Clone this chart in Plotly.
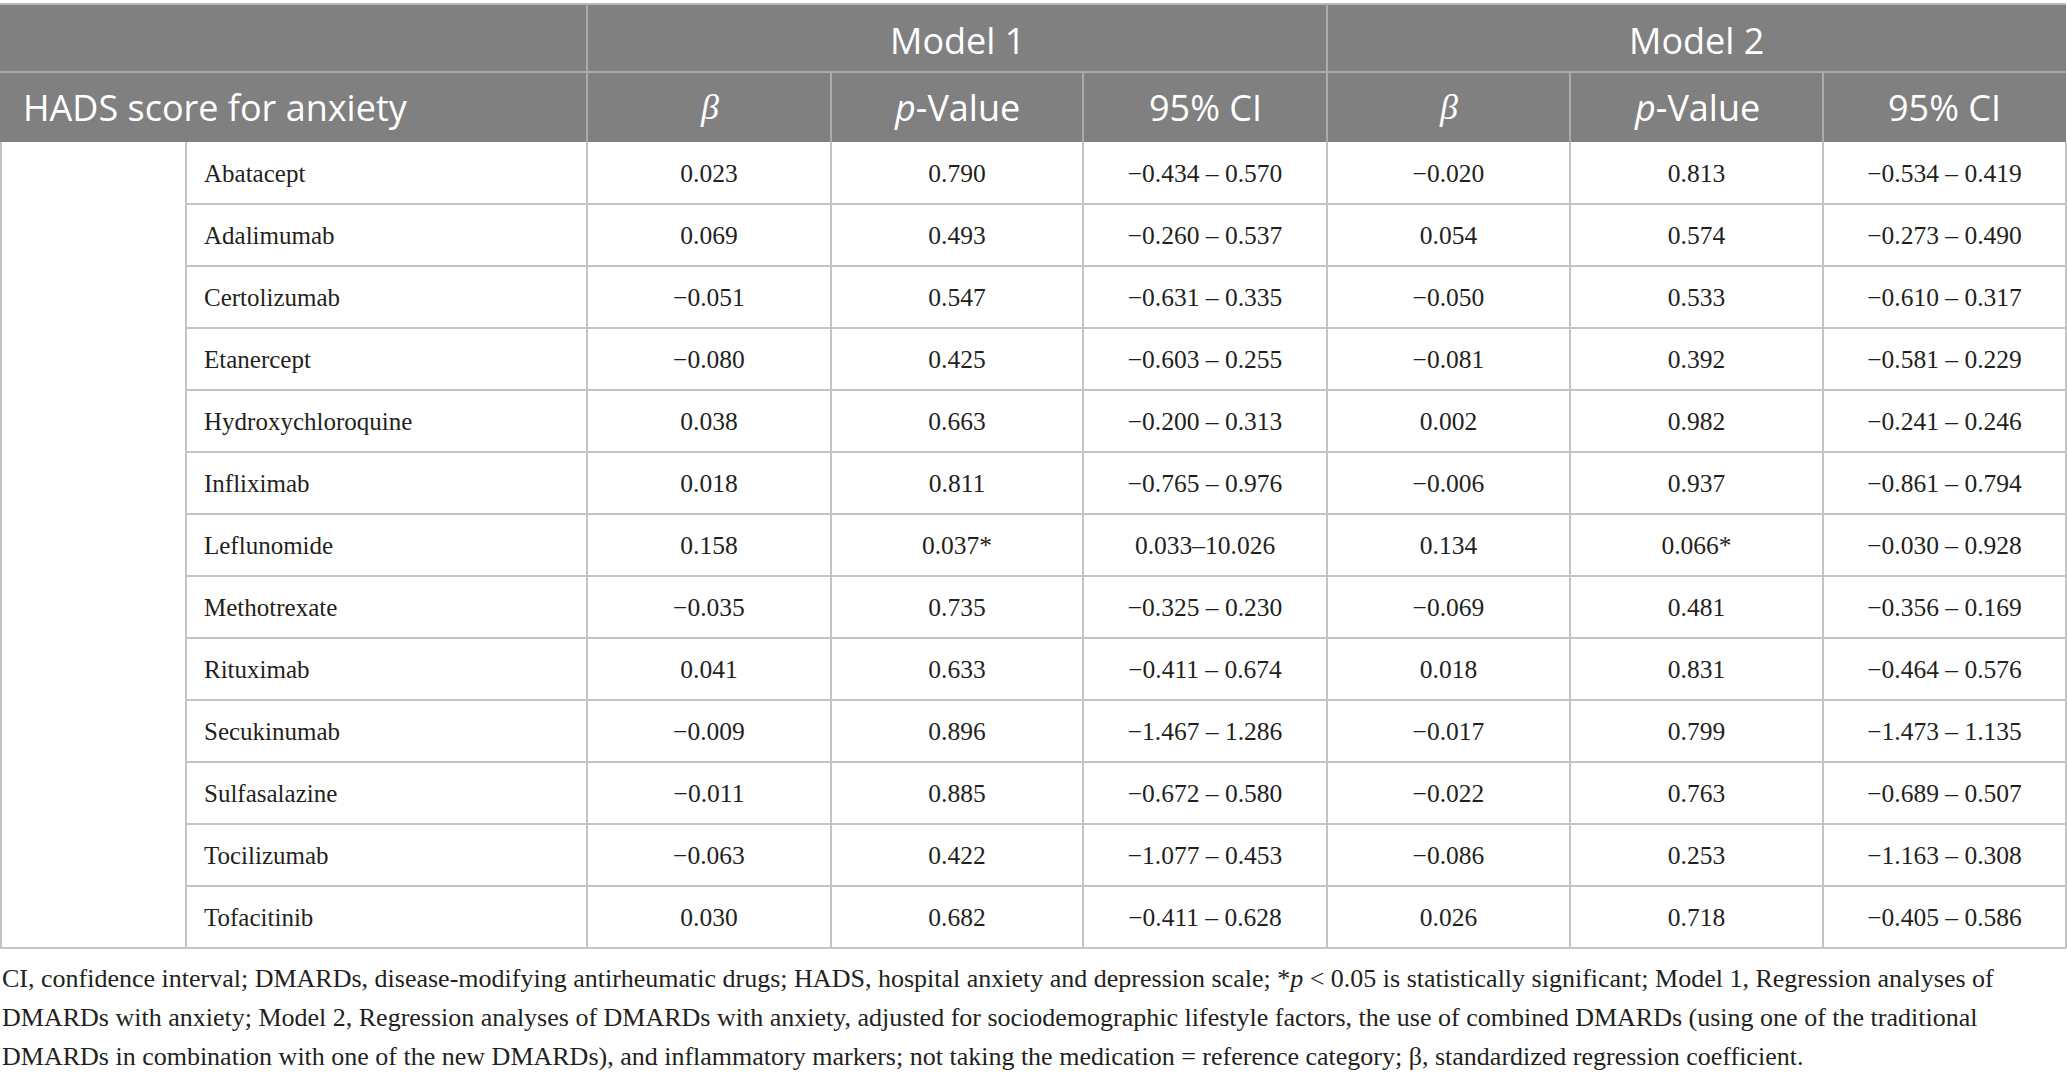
import plotly.graph_objects as go

# Table content
drugs = ["Abatacept", "Adalimumab", "Certolizumab", "Etanercept", "Hydroxychloroquine",
         "Infliximab", "Leflunomide", "Methotrexate", "Rituximab", "Secukinumab",
         "Sulfasalazine", "Tocilizumab", "Tofacitinib"]

m1_beta = [0.023, 0.069, -0.051, -0.080, 0.038, 0.018, 0.158, -0.035, 0.041, -0.009, -0.011, -0.063, 0.030]
m1_p = [0.790, 0.493, 0.547, 0.425, 0.663, 0.811, 0.037, 0.735, 0.633, 0.896, 0.885, 0.422, 0.682]
m1_star = [False, False, False, False, False, False, True, False, False, False, False, False, False]
m1_ci = ["−0.434 – 0.570", "−0.260 – 0.537", "−0.631 – 0.335", "−0.603 – 0.255", "−0.200 – 0.313",
         "−0.765 – 0.976", "0.033–10.026", "−0.325 – 0.230", "−0.411 – 0.674", "−1.467 – 1.286",
         "−0.672 – 0.580", "−1.077 – 0.453", "−0.411 – 0.628"]

m2_beta = [-0.020, 0.054, -0.050, -0.081, 0.002, -0.006, 0.134, -0.069, 0.018, -0.017, -0.022, -0.086, 0.026]
m2_p = [0.813, 0.574, 0.533, 0.392, 0.982, 0.937, 0.066, 0.481, 0.831, 0.799, 0.763, 0.253, 0.718]
m2_star = [False, False, False, False, False, False, True, False, False, False, False, False, False]
m2_ci = ["−0.534 – 0.419", "−0.273 – 0.490", "−0.610 – 0.317", "−0.581 – 0.229", "−0.241 – 0.246",
         "−0.861 – 0.794", "−0.030 – 0.928", "−0.356 – 0.169", "−0.464 – 0.576", "−1.473 – 1.135",
         "−0.689 – 0.507", "−1.163 – 0.308", "−0.405 – 0.586"]

models = ["Model 1", "Model 2"]
sub_headers = ["<i>β</i>", "<i>p</i>-Value", "95% CI"]
row_title = "HADS score for anxiety"

footnote = [
    "CI, confidence interval; DMARDs, disease-modifying antirheumatic drugs; HADS, hospital anxiety and depression scale; *<i>p</i> < 0.05 is statistically significant; Model 1, Regression analyses of",
    "DMARDs with anxiety; Model 2, Regression analyses of DMARDs with anxiety, adjusted for sociodemographic lifestyle factors, the use of combined DMARDs (using one of the traditional",
    "DMARDs in combination with one of the new DMARDs), and inflammatory markers; not taking the medication = reference category; β, standardized regression coefficient.",
]


def fmt(v):
    s = f"{abs(v):.3f}"
    return ("−" + s) if v < 0 else s


def fmt_p(v, star):
    return f"{v:.3f}" + ("*" if star else "")


# Layout (pixel units on hidden axes)
W, H = 2067, 1077
edges = [0, 186, 587, 831, 1083, 1327, 1570, 1823, 2066]
top, head_mid, head_bot = 4, 72, 142
row_h = 62
n = len(drugs)
body_bot = head_bot + row_h * n

HEAD_BG = "#7f807f"
HEAD_LINE = "#a9aaa9"
GRID = "#c4c4c4"
INK = "#231f20"
SERIF = "Liberation Serif"
SANS = "Open Sans"

shapes = []
# header block
shapes.append(dict(type="rect", x0=0, x1=edges[-1], y0=top, y1=head_bot,
                   fillcolor=HEAD_BG, line_width=0, layer="below"))
shapes.append(dict(type="line", x0=0, x1=edges[-1], y0=top, y1=top,
                   line=dict(color="#b8b8b8", width=2)))
shapes.append(dict(type="line", x0=0, x1=edges[-1], y0=head_mid, y1=head_mid,
                   line=dict(color=HEAD_LINE, width=2)))
for x in [edges[2], edges[5]]:
    shapes.append(dict(type="line", x0=x, x1=x, y0=top, y1=head_bot,
                       line=dict(color=HEAD_LINE, width=2)))
for x in [edges[3], edges[4], edges[6], edges[7]]:
    shapes.append(dict(type="line", x0=x, x1=x, y0=head_mid, y1=head_bot,
                       line=dict(color=HEAD_LINE, width=2)))

# body grid
for x in edges:
    xx = max(x, 1)
    shapes.append(dict(type="line", x0=xx, x1=xx, y0=head_bot, y1=body_bot,
                       line=dict(color=GRID, width=2)))
for k in range(1, n):
    y = head_bot + row_h * k
    shapes.append(dict(type="line", x0=edges[1], x1=edges[-1], y0=y, y1=y,
                       line=dict(color=GRID, width=2)))
shapes.append(dict(type="line", x0=0, x1=edges[-1], y0=body_bot, y1=body_bot,
                   line=dict(color=GRID, width=2)))

fig = go.Figure()

row_y = [head_bot + row_h * (i + 0.5) + 3 for i in range(n)]
centers = [(edges[j] + edges[j + 1]) / 2 for j in range(len(edges) - 1)]

# drug names
fig.add_trace(go.Scatter(
    x=[edges[1] + 18] * n, y=row_y, mode="text", text=drugs,
    textposition="middle right",
    textfont=dict(family=SERIF, size=25, color=INK),
    hoverinfo="skip", showlegend=False))

columns = [
    [fmt(v) for v in m1_beta],
    [fmt_p(v, s) for v, s in zip(m1_p, m1_star)],
    m1_ci,
    [fmt(v) for v in m2_beta],
    [fmt_p(v, s) for v, s in zip(m2_p, m2_star)],
    m2_ci,
]
for j, col in enumerate(columns):
    fig.add_trace(go.Scatter(
        x=[centers[j + 2]] * n, y=row_y, mode="text", text=col,
        textposition="middle center",
        textfont=dict(family=SERIF, size=25.5, color=INK),
        hoverinfo="skip", showlegend=False))

annotations = []
# header row 1
for m, (a, b) in zip(models, [(edges[2], edges[5]), (edges[5], edges[8])]):
    annotations.append(dict(x=(a + b) / 2, y=(top + head_mid) / 2 + 2, text=m,
                            showarrow=False, xanchor="center", yanchor="middle",
                            font=dict(family=SANS, size=36, color="white")))
# header row 2
annotations.append(dict(x=21, y=(head_mid + head_bot) / 2, text=row_title,
                        showarrow=False, xanchor="left", yanchor="middle",
                        font=dict(family=SANS, size=36, color="white")))
for j in range(6):
    label = sub_headers[j % 3]
    fam = SERIF if j % 3 == 0 else SANS
    annotations.append(dict(x=centers[j + 2], y=(head_mid + head_bot) / 2, text=label,
                            showarrow=False, xanchor="center", yanchor="middle",
                            font=dict(family=fam, size=36, color="white")))
# footnote
for i, line in enumerate(footnote):
    annotations.append(dict(x=0, y=978 + 39 * i, text=line, showarrow=False,
                            xanchor="left", yanchor="middle",
                            font=dict(family=SERIF, size=26, color=INK)))

fig.update_layout(
    width=W, height=H,
    margin=dict(l=0, r=0, t=0, b=0),
    paper_bgcolor="white", plot_bgcolor="white",
    xaxis=dict(range=[0, W], visible=False, fixedrange=True),
    yaxis=dict(range=[H, 0], visible=False, fixedrange=True),
    shapes=shapes, annotations=annotations,
)

fig.write_html("out.html", config={"displayModeBar": False},
               post_script="document.body.style.margin='0';")
